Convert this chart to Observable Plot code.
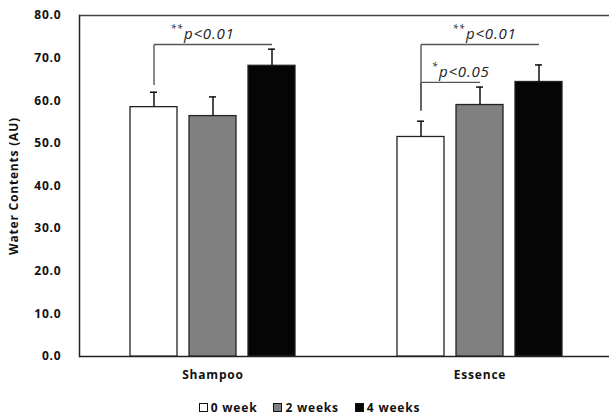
<!DOCTYPE html>
<html>
<head>
<meta charset="utf-8">
<script src="https://cdn.jsdelivr.net/npm/d3@7"></script>
<script src="https://cdn.jsdelivr.net/npm/@observablehq/plot@0.6"></script>
<style>
  body { margin: 0; background: #fff; }
  #legend {
    height: 25px; display: flex; align-items: center; justify-content: center;
    font-family: "Open Sans", sans-serif; font-weight: bold; font-size: 12px;
    letter-spacing: 0.8px; color: #111; padding-left: 10px; box-sizing: border-box;
  }
  .item { display: flex; align-items: center; margin: 0 8px; }
  .sw { width: 7px; height: 7px; border: 1px solid #111; margin-right: 3px; }
</style>
</head>
<body>
<div id="chart"></div>
<div id="legend"></div>
<script>
// ---- data ----
const products = ["Shampoo", "Essence"];
const weeks = ["0 week", "2 weeks", "4 weeks"];
const shampooMeans = [58.5, 56.4, 68.2];
const shampooErrors = [3.5, 4.5, 3.9];
const essenceMeans = [51.5, 59.0, 64.4];
const essenceErrors = [3.7, 4.2, 4.0];
const weekColors = ["#ffffff", "#808080", "#050505"];
const yTicks = [0, 10, 20, 30, 40, 50, 60, 70, 80];
const yLabel = "Water Contents (AU)";

// significance brackets
const bracketProduct = ["Shampoo", "Essence", "Essence"];
const bracketFrom = ["0 week", "0 week", "0 week"];
const bracketTo = ["4 weeks", "4 weeks", "2 weeks"];
const bracketLevel = [73.2, 73.2, 64.3];
const bracketBase = [63.7, 57.7, 57.7];
const bracketStars = ["**", "**", "*"];
const bracketText = ["p<0.01", "p<0.01", "p<0.05"];

// ---- tables built from the arrays ----
const meansBy = {Shampoo: shampooMeans, Essence: essenceMeans};
const errorsBy = {Shampoo: shampooErrors, Essence: essenceErrors};
const rows = products.flatMap(p => weeks.map((w, i) => ({
  product: p, week: w, mean: meansBy[p][i], top: meansBy[p][i] + errorsBy[p][i]
})));
const brackets = bracketProduct.map((p, i) => ({
  product: p, from: bracketFrom[i], to: bracketTo[i],
  level: bracketLevel[i], base: bracketBase[i],
  stars: bracketStars[i], text: bracketText[i]
}));
const labelDx = [30, 45, 18];

const lineColor = "#555";
const marks = [
  Plot.ruleY([0], {stroke: "#222", strokeWidth: 1.5}),
  Plot.ruleY([80], {stroke: "#444", strokeWidth: 1.5}),
  Plot.frame({anchor: "left", facetAnchor: "left", stroke: "#222", strokeWidth: 1.5}),
  Plot.barY(rows, {fx: "product", x: "week", y: "mean", fill: "week", stroke: "#222", strokeWidth: 1.3}),
  Plot.ruleX(rows, {fx: "product", x: "week", y1: "mean", y2: "top", stroke: "#111", strokeWidth: 1.5}),
  Plot.tickY(rows, {fx: "product", x: "week", y: "top", stroke: "#111", strokeWidth: 1.5, insetLeft: 20, insetRight: 20}),
  Plot.link(brackets, {fx: "product", x1: "from", x2: "from", y1: "base", y2: "level", stroke: lineColor, strokeWidth: 1.4}),
  Plot.link(brackets, {fx: "product", x1: "from", x2: "to", y1: "level", y2: "level", stroke: lineColor, strokeWidth: 1.4}),
  ...brackets.map((b, i) => Plot.text([b], {
    fx: "product", x: "from", y: "level", text: "text", textAnchor: "start",
    lineAnchor: "bottom", dx: labelDx[i], dy: -5,
    fontFamily: "Open Sans", fontStyle: "italic", fontWeight: "normal", fontSize: 15, fill: "#222"
  })),
  ...brackets.map((b, i) => Plot.text([b], {
    fx: "product", x: "from", y: "level", text: "stars", textAnchor: "end",
    lineAnchor: "bottom", dx: labelDx[i] - 1, dy: -12,
    fontFamily: "Open Sans", fontStyle: "italic", fontWeight: "normal", fontSize: 10, fill: "#222"
  }))
];

const chart = Plot.plot({
  width: 609, height: 395,
  marginLeft: 79, marginRight: -4, marginTop: 15, marginBottom: 39,
  style: {fontFamily: "Open Sans, sans-serif", fontWeight: "bold", fontSize: "12px", letterSpacing: "0.8px", color: "#111", background: "#fff"},
  fx: {domain: products, padding: 0, label: null, axis: "bottom", tickSize: 0, tickPadding: 14},
  x: {domain: weeks, paddingInner: 0.2, paddingOuter: 0.8627, axis: null},
  y: {domain: [0, 80], ticks: yTicks, tickFormat: d => d.toFixed(1), tickSize: 0, tickPadding: 18,
      label: yLabel, labelAnchor: "center", labelOffset: 70, labelArrow: "none"},
  color: {domain: weeks, range: weekColors},
  marks
});
document.getElementById("chart").append(chart);

// legend built from the same arrays
const legend = document.getElementById("legend");
weeks.forEach((w, i) => {
  const item = document.createElement("div");
  item.className = "item";
  const sw = document.createElement("span");
  sw.className = "sw";
  sw.style.background = weekColors[i];
  const t = document.createElement("span");
  t.textContent = w;
  item.append(sw, t);
  legend.append(item);
});
</script>
</body>
</html>
